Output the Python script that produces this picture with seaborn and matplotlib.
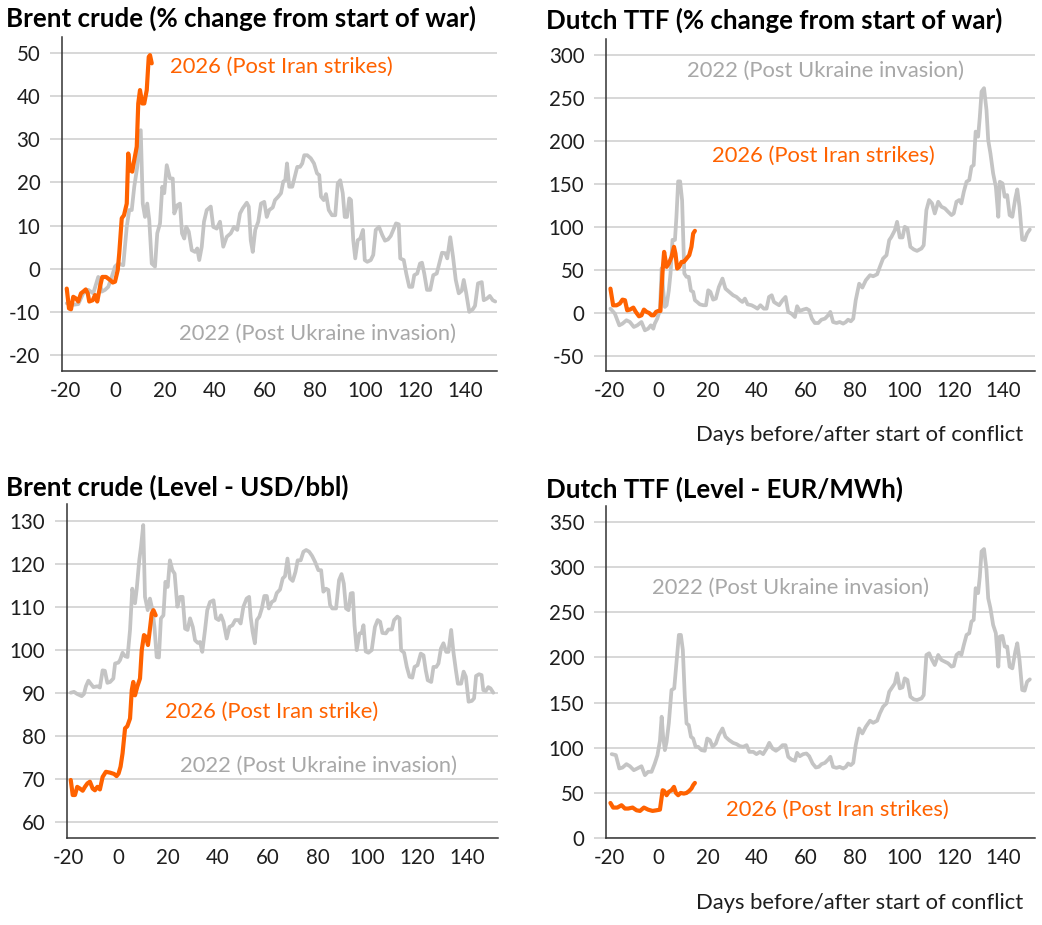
import matplotlib
matplotlib.use("Agg")
import matplotlib.pyplot as plt
import seaborn as sns
import pandas as pd

# ---------------- data ----------------
# Brent % change, 2022 (post Ukraine invasion)
brent_pct_2022_days = [-19.3, -17.3, -14.7, -12.7, -10.7, -8.7, -6.7, -5.3, -4, -2.7, -1.3, 0, 1.3, 3.3, 4.7, 5.7, 6.7, 7.7, 8.9, 10.3,
    11.1, 12, 12.9, 13.7, 14.7, 16, 16.9, 18, 18.9, 19.7, 20.7, 22, 23.1, 23.7, 24.9, 26, 26.8, 27.7, 28.5, 29.5,
    30.7, 32, 32.9, 33.7, 34.7, 35.6, 36.7, 38.3, 39.3, 40.7, 42, 43.3, 44.7, 46.3, 47.6, 48.9, 50, 51.1, 52.7, 53.5,
    54.3, 55.1, 56.1, 57.3, 58.4, 59.7, 60.7, 61.7, 63.1, 64, 65.3, 66.4, 67.3, 68.1, 68.8, 69.7, 70.9, 72, 72.9, 74,
    74.9, 75.7, 76.9, 78.3, 79.6, 80.8, 81.7, 82.4, 83.5, 84.4, 85.5, 86.8, 88.1, 89.1, 90.1, 91.1, 91.9, 92.8, 93.7, 94.4,
    95.3, 96.1, 97.1, 98.1, 99.2, 99.9, 100.9, 102.3, 103.3, 104.3, 105.6, 106.9, 108, 109.2, 110.3, 111.3, 112.4, 113.5, 114.1, 115.5,
    116.5, 117.7, 118.9, 119.7, 120.9, 122, 122.8, 123.7, 124.8, 126.1, 127.3, 128.7, 129.7, 130.8, 132.1, 132.9, 134.1, 135.2, 136.3, 137.5,
    138.7, 139.5, 140.5, 141.7, 143.1, 144, 145.2, 146.7, 147.5, 148.8, 149.9, 151.1, 152.1]
brent_pct_2022 = [-8.0, -8.4, -8.2, -5.7, -4.9, -5.7, -1.9, -5.3, -4.9, -4.2, -1.9, 0.5, 1.2, 0.8, 9.7, 13.6, 13.6, 19, 23.6, 32.1,
    15.1, 12, 15.1, 11.3, 1.2, 0.5, 8.2, 10.5, 19, 17.5, 24, 20.9, 20.9, 12.8, 14.7, 15.1, 8.2, 7, 9.7, 8.6,
    4.3, 3.9, 4.7, 2, 5.1, 10.9, 13.6, 14.4, 9.7, 9.3, 10.9, 5.1, 7.4, 8.2, 9.7, 9, 12.8, 14, 15.3, 14.4,
    6.6, 3.9, 9, 10.9, 15.1, 15.5, 12, 13.6, 14.2, 15.9, 16.7, 17.5, 20.2, 20.5, 24.4, 19, 19, 21.5, 23.6, 23.6,
    24.4, 26.3, 26.3, 25.6, 24.4, 22.1, 21.7, 16.7, 15.9, 17.3, 13.6, 12.4, 12.4, 19.8, 20.5, 17.5, 12, 12, 16.3, 15.9,
    6.6, 2.4, 6.6, 7, 9, 2, 1.6, 2, 3.2, 9, 9.7, 7.8, 6.5, 6.8, 7.6, 9, 10.5, 10.3, 2.4, 2,
    -1.1, -4.2, -4.2, -1.5, -1.1, 1.2, 1.4, -1.1, -4.9, -4.9, -1.5, -1.1, 1.2, 3.7, 3.6, 2.4, 7.3, 2.8, -2.6, -5.7,
    -5.1, -2.6, -5.7, -10, -9.4, -8.6, -3.4, -3.1, -7.3, -6.9, -6.3, -7.3, -7.6]

# Brent % change, 2026 (post Iran strikes)
brent_pct_2026_days = [-19.3, -18.4, -17.6, -16.7, -15.6, -14.7, -13.6, -12.7, -11.7, -10.9, -10.3, -8.9, -8, -7.1, -6, -5.1, -3.6, -2, -0.9, 0,
    1.1, 1.7, 2.7, 3.6, 4.7, 5.3, 6, 6.9, 7.7, 8.7, 9.3, 10, 10.9, 11.7, 12.7, 13.5, 14, 14.7]
brent_pct_2026 = [-4.6, -9.2, -9.4, -6.5, -6.9, -7.6, -5.7, -5.3, -4.8, -5.7, -7.6, -7.3, -6.1, -7.6, -4.2, -1.9, -1.9, -2.6, -3.2, -3,
    -0.3, 3.6, 11.7, 12.4, 15.1, 26.7, 22.9, 22.5, 25.2, 28.3, 38.3, 41.4, 38.3, 38.3, 41.4, 49.1, 49.5, 47.6]

# Dutch TTF % change, 2022
ttf_pct_2022_days = [-19.4, -17.6, -15.8, -14.5, -12.9, -11.5, -9.9, -8.5, -6.8, -5.4, -4.1, -3, -2, -1.4, -0.4, 0.7, 1.4, 2, 2.7, 3.4,
    4.3, 5, 5.8, 6.8, 7.4, 8.1, 8.9, 9.7, 10.6, 11.5, 12.4, 13.3, 14.2, 14.9, 15.8, 16.9, 18.3, 19.4, 20.3, 21.2,
    22.3, 23.4, 24.6, 26.1, 27.3, 28.8, 30.4, 31.8, 33.2, 34.2, 35.2, 36.3, 37.9, 39.2, 40.3, 41.5, 42.9, 44, 45, 46.1,
    47, 48, 49.1, 50.5, 51.7, 52.8, 54.1, 55.5, 56.4, 57.5, 58.9, 60.2, 61.3, 62.4, 63.6, 65, 66.3, 67.7, 69, 69.9,
    71, 72.4, 73.7, 75.1, 76.2, 77.1, 78.2, 79.2, 80.2, 81.6, 82.9, 84.3, 86, 87.3, 88.9, 90, 91.3, 92.7, 93.8, 94.7,
    96.1, 97, 98.1, 99.2, 100.1, 101.2, 102.4, 103.8, 105.1, 106.9, 107.8, 108.9, 110, 111.2, 112.3, 113.7, 115, 116.4, 117.7, 119.1,
    120, 121.1, 122.2, 123.1, 124.1, 125.2, 126.3, 127.2, 128.1, 128.9, 129.9, 130.6, 131.3, 132.3, 133.3, 134, 134.9, 136, 137.1, 138.1,
    138.7, 139.8, 140.7, 141.7, 142.7, 143.8, 145, 145.8, 146.7, 147.8, 148.8, 149.8, 150.9]
ttf_pct_2022 = [5, -0.8, -14.4, -12.4, -8.5, -10.5, -16.3, -14.4, -10.5, -20.2, -18.3, -14.4, -18.3, -12.4, -6.6, 3.1, 52, 27, 7, 9,
    26, 46, 85, 85, 112, 153, 153, 131, 46, 42, 42, 26, 24.5, 14.8, 12.8, 10, 9, 9, 26.4, 24.5,
    15.5, 16.7, 30, 40, 28.3, 24.5, 20.6, 18.6, 14.8, 12.8, 16.7, 10, 9, 7, 5, 9, 5, 5, 18.6, 20.6,
    12.8, 10.9, 9, 14.8, 18.6, 1.2, -0.8, -4.7, 7.8, 2.3, 3.9, 5, 3.1, -6.6, -11.7, -11.7, -7.8, -6.6, -2.7, 1.2,
    -10.5, -11.7, -10.5, -12.4, -10.5, -7.8, -9.7, -6.6, 14.8, 34, 29.5, 38, 43.9, 42.7, 45, 53.6, 63.3, 67.2, 84.7, 88.5,
    96.3, 106, 87.8, 87.8, 100.2, 98.3, 76.9, 73.8, 72.2, 75, 78.8, 119.6, 131.3, 127.4, 115.7, 129.3, 123.5, 121.6, 117.7, 113.8,
    115.7, 129.3, 131.3, 127.4, 141, 152.6, 154.6, 170, 172, 210.9, 205, 228.3, 257.5, 261.4, 236, 201, 185.6, 162.3, 146.8, 111.8,
    152.6, 150.7, 135.1, 137.1, 113.8, 111.8, 133.2, 143.7, 123.5, 85.4, 84.7, 92.4, 97.1]

# Dutch TTF % change, 2026
ttf_pct_2026_days = [-19.4, -18.3, -16.9, -15.6, -14.5, -13.5, -12.6, -11.5, -10.1, -9.1, -7.8, -6.8, -5.8, -4.7, -3.7, -2.7, -1.8, -0.9, 0, 0.9,
    1.8, 2.4, 3.4, 4.3, 5.4, 6.4, 7, 7.7, 8.5, 9.5, 10.4, 11.5, 12.6, 13.5, 14.2, 14.9]
ttf_pct_2026 = [28.3, 8.9, 8.9, 10.9, 15.5, 14.8, 3.1, 3.9, 6.2, 1.2, -3.9, -2.7, 3.9, 1.2, 0, -2.7, -2.7, 1.2, 2.3, 2.3,
    49.7, 71, 53.6, 57.5, 65.2, 76.9, 69.1, 51.7, 53.6, 59.4, 59.4, 63.3, 67.2, 76.9, 92.4, 95.5]

# Brent level USD/bbl, 2022
brent_lvl_2022_days = [-19.1, -17.8, -16.5, -14.7, -13.8, -13, -12, -11.1, -10, -8.4, -7.4, -6.3, -5.4, -4.4, -3.3, -2, -1.3, 0, 0.7, 1.7,
    2.7, 3.7, 4.7, 5.6, 6.7, 7.4, 8.4, 9.1, 10, 10.7, 11.8, 12.7, 13.7, 14.5, 15.4, 16.3, 17.1, 18.1, 18.9, 19.8,
    20.7, 21.7, 22.6, 23.7, 24.8, 25.8, 26.8, 27.8, 28.8, 29.9, 30.8, 31.9, 32.8, 33.7, 34.8, 35.7, 36.8, 38.2, 39.2, 40.3,
    41.2, 42.2, 43.5, 44.6, 45.8, 46.9, 48.2, 49.1, 50.2, 51.5, 52.5, 53.1, 53.9, 54.8, 55.6, 56.6, 57.6, 58.6, 59.6, 60.4,
    61.6, 62.7, 63.6, 64.9, 66, 66.9, 67.9, 68.9, 70, 71.1, 72, 73.2, 74.3, 75.4, 76.6, 77.8, 79, 80.3, 81.4, 82.3,
    83.4, 84.3, 85, 85.9, 87.4, 88.6, 89.6, 90.5, 91.4, 92.4, 93.3, 94.1, 94.8, 95.7, 96.8, 97.7, 98.4, 99.3, 100.4, 101.7,
    103, 104.1, 105.1, 106, 107.4, 108.4, 109.8, 110.7, 112, 112.9, 113.5, 114.7, 115.8, 116.9, 118, 118.9, 120.1, 121.4, 122.5, 123.4,
    124.2, 125.6, 126.5, 127.6, 128.5, 129.5, 130.5, 131.6, 132.5, 133.6, 134.5, 135.5, 136.3, 137.6, 138.6, 139.5, 140.6, 141.9, 142.8, 143.6,
    144.8, 145.8, 146.5, 147.5, 148.5, 149.4, 150.5]
brent_lvl_2022 = [90.1, 90.3, 89.8, 89.3, 89.8, 91.6, 92.9, 92.2, 91.4, 91.6, 91.3, 95.3, 95.2, 92.4, 92.6, 93.4, 96.9, 97.1, 97.7, 99.4,
    98.6, 98.4, 104.7, 114.3, 110.9, 114.3, 120.9, 124, 129.1, 112.4, 109.3, 112, 109.3, 105.4, 98.4, 98.3, 107.4, 108.1, 115.9, 114.7,
    120.9, 118.6, 117.8, 110.1, 112.4, 112.4, 105, 104.7, 107.4, 105.4, 102.3, 101.7, 101.9, 99.6, 104.7, 109.3, 111.2, 111.6, 107.4, 107,
    108.1, 106.6, 102.7, 105.4, 105.8, 107, 107, 106.2, 110.1, 112, 112.4, 107.8, 104.3, 101.6, 107, 107.8, 109.7, 112.6, 112.6, 109.7,
    111.2, 111.6, 113.3, 114.1, 116.7, 117.2, 121.3, 116.7, 116.1, 118.2, 120.9, 120.9, 122.9, 123.3, 122.9, 121.9, 120.5, 118.6, 118.6, 113.6,
    114.3, 114, 110.5, 109.7, 109.7, 116.3, 117.7, 115.5, 109.7, 109.3, 113.2, 113.3, 105.8, 100, 103.9, 104, 105.8, 99.7, 99.4, 100,
    105.4, 107, 106.6, 104, 103.9, 104.8, 104.8, 107, 107.8, 107.4, 100, 99.4, 96.1, 93.8, 93.6, 96.1, 96.5, 99.2, 98.8, 95.3,
    93, 92.6, 96.1, 96.1, 96.9, 100.4, 101.6, 99.6, 99.6, 104.7, 99.6, 95.3, 92.2, 92.2, 95, 93.8, 88, 88.2, 88.8, 94,
    94.4, 94.2, 90.7, 90.5, 91.4, 91.1, 90.1]

# Brent level USD/bbl, 2026
brent_lvl_2026_days = [-19.1, -18.3, -17.4, -16.5, -15.4, -14.3, -13.4, -12.4, -11.4, -10.3, -9.4, -8.4, -7.4, -6.3, -5, -3.3, -1.7, -0.7, 0.1, 0.9,
    1.7, 2.7, 3.6, 4.7, 5.4, 6, 6.7, 7.6, 8.7, 9.4, 10.3, 11.1, 11.9, 12.7, 13.4, 14.1, 15]
brent_lvl_2026 = [69.8, 66.3, 66.3, 68.2, 67.8, 67.3, 68.2, 69, 69.4, 67.8, 67.4, 68.2, 67.6, 70.5, 71.7, 71.5, 71.2, 70.7, 71.3, 72.9,
    76, 81.8, 82.3, 84.1, 90.7, 92.6, 89.5, 91.5, 93.4, 100, 103.5, 103.1, 101.2, 105, 108.5, 109.3, 108.1]

# Dutch TTF level EUR/MWh, 2022
ttf_lvl_2022_days = [-18.9, -17.2, -15.8, -14.5, -12.9, -11.5, -9.9, -8.5, -6.8, -5.4, -4.1, -2.7, -1.4, -0.3, 0.7, 1.4, 2, 2.7, 3.4, 4.3,
    5.4, 6.5, 7.4, 8.4, 9.2, 10, 10.8, 11.5, 12.4, 13.3, 14.2, 15.2, 16.2, 17.6, 18.9, 19.9, 21, 22.1, 23.4, 24.6,
    26.1, 27.3, 28.8, 30.4, 31.8, 33.2, 34.5, 35.9, 37, 38.6, 39.9, 41.3, 42.6, 44, 45.1, 46.4, 47.8, 49.1, 50.5, 51.7,
    52.8, 54.1, 55.5, 56.4, 57.5, 58.9, 60.2, 61.3, 62.7, 64, 65.2, 66.3, 67.7, 69, 69.9, 71, 72.4, 73.7, 75.1, 76.2,
    77.1, 78.2, 79.2, 80.2, 81.6, 82.9, 84.3, 86, 87.3, 88.9, 90, 91.3, 92.7, 93.8, 94.7, 96.1, 97, 98.1, 99.2, 100.1,
    101.2, 102.4, 103.8, 105.1, 106.9, 107.8, 108.9, 110, 111.2, 112.3, 113.7, 115, 116.4, 117.7, 119.1, 120, 121.1, 122.2, 123.1, 124.1,
    125.2, 126.3, 127.2, 128.1, 128.9, 129.9, 130.6, 131.3, 132.3, 133.3, 134, 134.9, 136, 137.1, 138.1, 138.7, 139.8, 140.7, 141.7, 142.7,
    143.8, 145, 145.8, 146.7, 147.8, 148.8, 149.8, 150.9]
ttf_lvl_2022 = [92.9, 91.8, 77, 78, 81.8, 79.5, 75.1, 77, 79.5, 69.6, 73.3, 73.3, 82.5, 91.8, 107.7, 134.3, 112.1, 97.3, 106.5, 126.9,
    163.9, 165.7, 193.5, 224.9, 224.9, 208.3, 156.5, 126.9, 125, 112.1, 110.2, 101, 101, 97.3, 96.6, 110.2, 108.4, 101, 104.7, 113.9,
    121.3, 112.1, 108.4, 105.4, 104, 101.7, 101, 102.8, 95.4, 95.4, 92.9, 95.4, 92.9, 99.1, 105.4, 99.1, 96.6, 99.1, 102.8, 102.8,
    89.9, 86.9, 85.5, 94.3, 90.6, 92.9, 93.6, 90.6, 82.5, 78.1, 78.8, 81.8, 83.2, 86.9, 89.9, 78.8, 77.7, 78.8, 77, 78.8,
    82.5, 80.7, 83.2, 102.8, 121.3, 115.8, 123.2, 129.9, 127.6, 129.9, 138, 145.4, 149.1, 162, 165.7, 171.3, 182.4, 165.7, 166.9, 176.8,
    175, 156.5, 153.5, 152.8, 154.6, 158.3, 202.7, 204.6, 197.2, 191.6, 202.7, 197.2, 195.3, 193.5, 189.8, 190.5, 202.7, 205.3, 202.7, 213.8,
    224.9, 226.8, 239.7, 241.6, 276.7, 271.2, 289.7, 317.4, 320, 297.1, 265.6, 254.5, 236, 226.8, 189.8, 223.1, 223.8, 212, 212, 189.8,
    187.9, 206.4, 215.7, 197.2, 163.9, 163.2, 173.1, 175.7]

# Dutch TTF level EUR/MWh, 2026
ttf_lvl_2026_days = [-19.4, -18.3, -16.6, -14.9, -13.5, -12.2, -10.4, -8.8, -7.4, -5.8, -4.1, -2.3, -0.7, 0.7, 1.8, 2.4, 3.4, 4.3, 5.4, 6.4,
    7.2, 8.1, 9.1, 10.4, 11.5, 12.6, 13.5, 14.2, 14.9]
ttf_lvl_2026 = [38.8, 33.7, 33.7, 36.3, 32.6, 32.6, 33.7, 30.7, 30, 33.7, 31.4, 30, 30.7, 31.4, 52.9, 52.2, 47.4, 51.1, 52.9, 56.6,
    49.9, 47.4, 49.9, 49.2, 49.9, 52.2, 54.8, 58.5, 61]

titles = ["Brent crude (% change from start of war)", "Dutch TTF (% change from start of war)",
          "Brent crude (Level - USD/bbl)", "Dutch TTF (Level - EUR/MWh)"]
xticks = [-20, 0, 20, 40, 60, 80, 100, 120, 140]
yticks_list = [[-20, -10, 0, 10, 20, 30, 40, 50], [-50, 0, 50, 100, 150, 200, 250, 300],
               [60, 70, 80, 90, 100, 110, 120, 130], [0, 50, 100, 150, 200, 250, 300, 350]]
xlabel = "Days before/after start of conflict"
label_2022 = "2022 (Post Ukraine invasion)"
label_2026_list = ["2026 (Post Iran strikes)", "2026 (Post Iran strikes)", "2026 (Post Iran strike)", "2026 (Post Iran strikes)"]

# ---------------- style ----------------
sns.set_style("white")
plt.rcParams['font.family'] = ['Lato', 'DejaVu Sans']

ORANGE = "#FF6200"
GREY_LINE = "#C4C4C4"
GREY_TEXT = "#A8A8A8"
GRID = "#CDCDCD"
TXT = "#1E1E1E"

fig = plt.figure(figsize=(10.42, 9.25), dpi=100)
W, H = 1042, 925

def px_axes(left, top, right, bottom):
    return fig.add_axes([left / W, 1 - bottom / H, (right - left) / W, (bottom - top) / H])

axes = [px_axes(62, 37, 497, 371), px_axes(606, 39, 1035, 371),
        px_axes(67, 504, 498, 838), px_axes(606, 506, 1035, 838)]
ylims = [(-23.7, 53.7), (-67.5, 318.6), (56.3, 134.0), (0, 367.7)]
xlims = [(-21.2, 152.8), (-21.2, 153.0), (-20.6, 152.4), (-21.2, 153.0)]

series = [
    (brent_pct_2022_days, brent_pct_2022, brent_pct_2026_days, brent_pct_2026),
    (ttf_pct_2022_days, ttf_pct_2022, ttf_pct_2026_days, ttf_pct_2026),
    (brent_lvl_2022_days, brent_lvl_2022, brent_lvl_2026_days, brent_lvl_2026),
    (ttf_lvl_2022_days, ttf_lvl_2022, ttf_lvl_2026_days, ttf_lvl_2026),
]
# annotation positions (data coords)
ann_2026 = [(22, 46.8), (21.7, 183), (18.7, 85.7), (27.5, 30.7)]
ann_2022 = [(25.6, -15), (11.5, 282), (24.8, 73), (-2.7, 276.7)]
title_pos = [(6, 18), (546, 20), (6, 487), (546, 489)]

for i, ax in enumerate(axes):
    d22, v22, d26, v26 = series[i]
    df22 = pd.DataFrame({"day": d22, "value": v22})
    df26 = pd.DataFrame({"day": d26, "value": v26})
    sns.lineplot(data=df22, x="day", y="value", ax=ax, color=GREY_LINE, linewidth=2.7,
                 estimator=None, sort=False, zorder=3)
    sns.lineplot(data=df26, x="day", y="value", ax=ax, color=ORANGE, linewidth=3.0,
                 estimator=None, sort=False, zorder=4)
    ax.set_xlim(*xlims[i])
    ax.set_ylim(*ylims[i])
    ax.set_xticks(xticks)
    ax.set_yticks(yticks_list[i])
    ax.set_xlabel("")
    ax.set_ylabel("")
    ax.grid(axis="y", color=GRID, linewidth=1.1, zorder=0)
    ax.grid(axis="x", visible=False)
    for s in ["top", "right"]:
        ax.spines[s].set_visible(False)
    ax.spines["left"].set_color("#333333")
    ax.spines["bottom"].set_color("#333333")
    ax.spines["left"].set_linewidth(1.1)
    ax.spines["bottom"].set_linewidth(1.1)
    ax.tick_params(axis="y", which="major", length=8.6, width=1.1, color=GRID, pad=7,
                   labelsize=14.8, labelcolor=TXT, direction="out", left=True)
    ax.tick_params(axis="x", which="major", length=0, pad=7, labelsize=14.8, labelcolor=TXT)
    ax.set_yticklabels([str(t) for t in yticks_list[i]])
    ax.set_xticklabels([str(t) for t in xticks])
    ax.text(*ann_2026[i], label_2026_list[i], color=ORANGE, fontsize=15.8, ha="left", va="center", zorder=5)
    ax.text(*ann_2022[i], label_2022, color=GREY_TEXT, fontsize=15.8, ha="left", va="center", zorder=5)
    tx, ty = title_pos[i]
    fig.text(tx / W, 1 - ty / H, titles[i], fontsize=18.6, fontweight="bold", color="#000000",
             ha="left", va="center")

fig.text(1023 / W, 1 - 435 / H, xlabel, fontsize=15.8, color=TXT, ha="right", va="center")
fig.text(1023 / W, 1 - 903 / H, xlabel, fontsize=15.8, color=TXT, ha="right", va="center")

fig.savefig("out.png", dpi=100)
